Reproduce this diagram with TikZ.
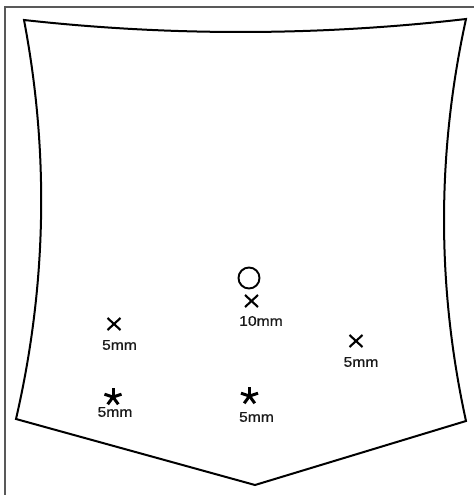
\documentclass[tikz,border=0pt]{standalone}
\usepackage{fontspec}
\setmainfont{Liberation Sans}
\newfontfamily\lblfont[FakeBold=0.6]{Liberation Sans}
\begin{document}
\begin{tikzpicture}[x=1pt,y=-1pt,
  outline/.style={line width=2pt,line join=miter,black},
  framel/.style={line width=1.2pt,gray!70!black},
  lbl/.style={font=\lblfont\fontsize{14}{15}\selectfont,xscale=1.12,inner sep=0pt,text=black!90},
  crossmark/.style={line width=2.1pt,black},
  starmark/.style={line width=3pt,black},
  ringmark/.style={line width=1.9pt,black}]
\useasboundingbox (0,0) rectangle (474,495);
% frame
\draw[framel] (5,495) -- (5,7) -- (474,7);
% outline
\coordinate (tl) at (24,20);
\coordinate (tr) at (466,19);
\coordinate (bl) at (16,419);
\coordinate (br) at (466,421);
\coordinate (bp) at (255,485);
\draw[outline] (tl) .. controls (171,36.3) and (319,36) .. (tr)
  .. controls (436.7,153) and (436.7,287) .. (br) -- (bp) -- (bl)
  .. controls (46.7,286) and (49.3,153) .. (tl) -- cycle;
% circle marker
\draw[ringmark] (249,278) circle (10.5);
% cross markers
\foreach \cx/\cy in {251.5/301, 114/324, 356/341}{
  \draw[crossmark] (\cx-6.5,\cy-6) -- (\cx+6.5,\cy+6);
  \draw[crossmark] (\cx-6.5,\cy+6) -- (\cx+6.5,\cy-6);
}
% asterisk markers
\foreach \cx/\cy in {113/397, 249.5/396}{
  \foreach \a in {90,18,162,234,306}{
    \draw[starmark] (\cx,\cy) -- ++({9*cos(\a)},{-9*sin(\a)});
  }
}
% labels
\node[lbl] (l1) at (261,321) {10mm};
\node[lbl] (l2) at (119.5,345) {5mm};
\node[lbl] (l3) at (361,362) {5mm};
\node[lbl] (l4) at (115,412) {5mm};
\node[lbl] (l5) at (256.5,417) {5mm};
\end{tikzpicture}
\end{document}
